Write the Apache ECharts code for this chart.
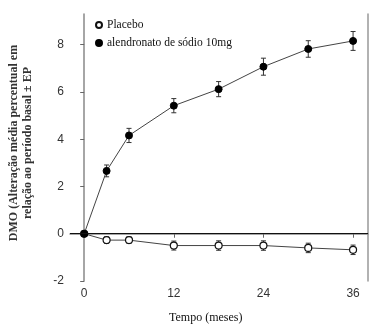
<!DOCTYPE html>
<html>
<head>
<meta charset="utf-8">
<script src="https://cdn.jsdelivr.net/npm/echarts@6/dist/echarts.min.js"></script>
<style>
html,body{margin:0;padding:0;background:#fff;}
#c{width:386px;height:330px;}
</style>
</head>
<body>
<div id="c"></div>
<script>
const months = [0, 3, 6, 12, 18, 24, 30, 36];
const alendMean = [0, 2.66, 4.16, 5.42, 6.12, 7.07, 7.82, 8.16];
const alendErr = [0, 0.25, 0.3, 0.3, 0.32, 0.36, 0.35, 0.4];
const placeboMean = [0, -0.27, -0.27, -0.5, -0.5, -0.5, -0.6, -0.68];
const placeboErr = [0, 0.14, 0.14, 0.19, 0.2, 0.2, 0.2, 0.2];
const xTicks = [0, 12, 24, 36];
const yTicks = [-2, 0, 2, 4, 6, 8];
const seriesNames = ['Placebo', 'alendronato de sódio 10mg'];
const xTitle = 'Tempo (meses)';
const yTitle = 'DMO (Alteração média percentual em\nrelação ao período basal ± EP';

const chart = echarts.init(document.getElementById('c'), null, {renderer: 'canvas'});

function errData(mean, err) {
  return months.map((m, i) => [m, mean[i] - err[i], mean[i] + err[i]]);
}
function errRender(params, api) {
  const x = api.value(0);
  const lo = api.coord([x, api.value(1)]);
  const hi = api.coord([x, api.value(2)]);
  const w = 2.5;
  const style = {stroke: '#333', lineWidth: 1};
  return {
    type: 'group',
    children: [
      {type: 'line', shape: {x1: lo[0], y1: lo[1], x2: hi[0], y2: hi[1]}, style: style},
      {type: 'line', shape: {x1: lo[0] - w, y1: lo[1], x2: lo[0] + w, y2: lo[1]}, style: style},
      {type: 'line', shape: {x1: hi[0] - w, y1: hi[1], x2: hi[0] + w, y2: hi[1]}, style: style}
    ]
  };
}

const serif = '"Liberation Serif", "DejaVu Serif", serif';
const sans = '"Liberation Sans", Arial, sans-serif';

chart.setOption({
  animation: false,
  backgroundColor: '#fff',
  grid: {left: 70, right: 18, top: 14, bottom: 49},
  legend: {
    orient: 'vertical',
    left: 90,
    top: 14,
    itemWidth: 6,
    itemHeight: 6,
    itemGap: 6,
    textStyle: {fontFamily: serif, fontSize: 11.5, color: '#111'},
    data: [
      {name: seriesNames[0], icon: 'circle'},
      {name: seriesNames[1], icon: 'circle'}
    ]
  },
  xAxis: {
    type: 'value',
    min: -1.9,
    max: 38,
    axisLine: {show: true, lineStyle: {color: '#888', width: 1.5}},
    axisTick: {show: true, length: 4, customValues: xTicks, lineStyle: {color: '#666'}},
    axisLabel: {customValues: xTicks, color: '#333', fontFamily: sans, fontSize: 12, margin: 7},
    splitLine: {show: false}
  },
  yAxis: [{
    type: 'value',
    min: -2,
    max: 9.3,
    interval: 2,
    axisLine: {show: true, lineStyle: {color: '#888', width: 1.5}},
    axisTick: {show: true, length: 4, customValues: yTicks, lineStyle: {color: '#666'}},
    axisLabel: {customValues: yTicks, color: '#333', fontFamily: sans, fontSize: 12, margin: 6},
    splitLine: {show: false}
  }, {
    type: 'value',
    position: 'right',
    min: -2,
    max: 9.3,
    axisLine: {show: true, lineStyle: {color: '#999', width: 1.5}},
    axisTick: {show: false},
    axisLabel: {show: false},
    splitLine: {show: false}
  }],
  graphic: [
    {
      type: 'text',
      left: 169,
      top: 312,
      style: {text: xTitle, font: '12px ' + serif, fill: '#111'}
    },
    {
      type: 'text',
      x: 7,
      y: 143,
      rotation: Math.PI / 2,
      style: {
        text: yTitle,
        font: 'bold 12px ' + serif,
        fill: '#333',
        align: 'center',
        verticalAlign: 'top',
        lineHeight: 14
      }
    }
  ],
  series: [
    {
      type: 'custom',
      renderItem: errRender,
      data: errData(placeboMean, placeboErr),
      z: 1,
      silent: true
    },
    {
      type: 'custom',
      renderItem: errRender,
      data: errData(alendMean, alendErr),
      z: 1,
      silent: true
    },
    {
      name: seriesNames[0],
      type: 'line',
      data: months.map((m, i) => [m, placeboMean[i]]),
      symbol: 'circle',
      symbolSize: 7,
      showAllSymbol: true,
      lineStyle: {color: '#444', width: 1},
      itemStyle: {color: '#fff', borderColor: '#111', borderWidth: 1.2},
      z: 3,
      markLine: {
        silent: true,
        symbol: 'none',
        label: {show: false},
        lineStyle: {color: '#111', width: 1, type: 'solid'},
        data: [{yAxis: 0}]
      }
    },
    {
      name: seriesNames[1],
      type: 'line',
      data: months.map((m, i) => [m, alendMean[i]]),
      symbol: 'circle',
      symbolSize: 7,
      showAllSymbol: true,
      lineStyle: {color: '#444', width: 1},
      itemStyle: {color: '#000', borderColor: '#000', borderWidth: 1},
      z: 4
    }
  ]
});
</script>
</body>
</html>
